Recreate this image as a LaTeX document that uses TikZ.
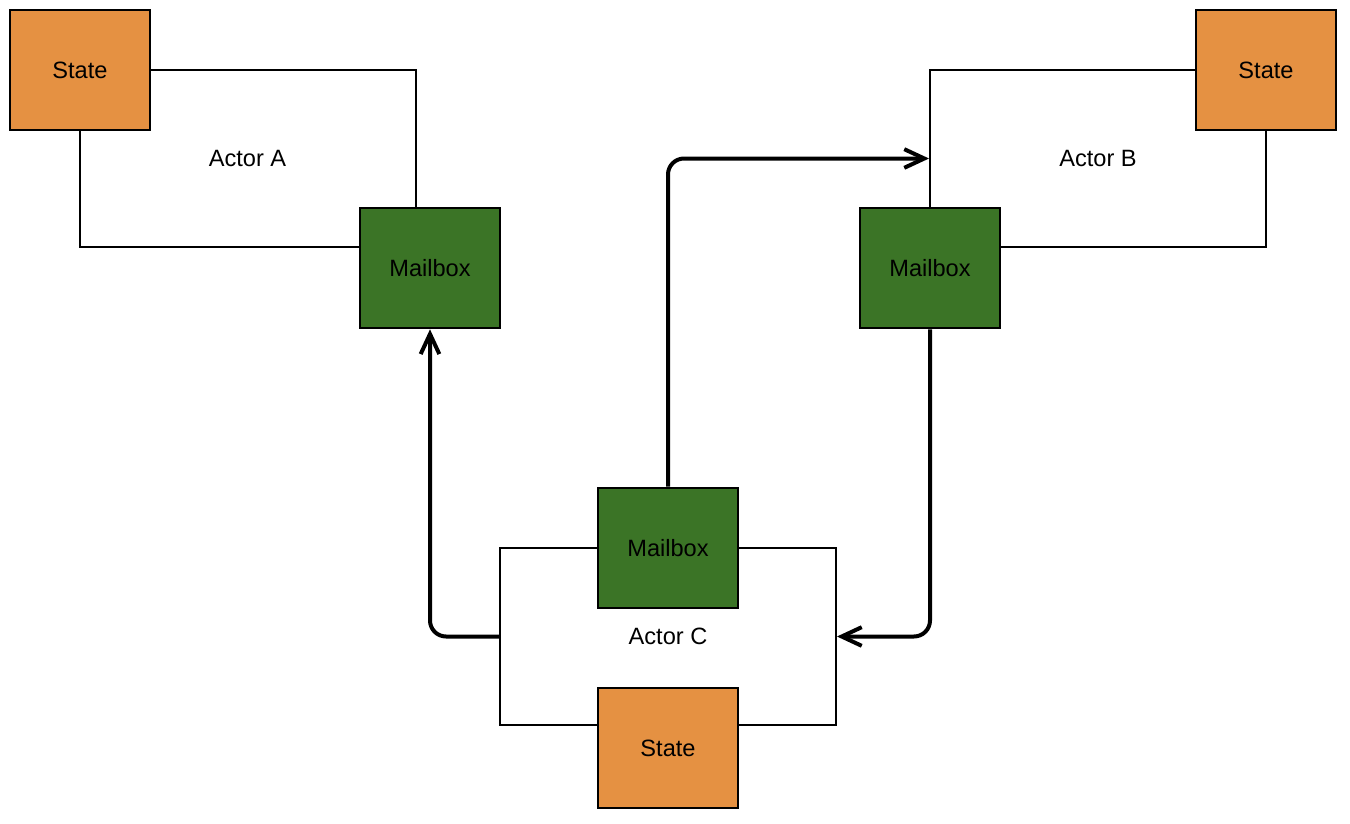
\documentclass[tikz,border=0pt]{standalone}
\usepackage{fontspec}
\setmainfont{Liberation Sans}
\usetikzlibrary{arrows.meta}
\definecolor{stateorange}{RGB}{229,145,66}
\definecolor{mailgreen}{RGB}{59,116,38}
\begin{document}
\begin{tikzpicture}[x=0.75pt,y=-0.75pt,
  font=\fontsize{17.7pt}{20pt}\selectfont,
  actorbox/.style={draw, line width=1.5pt, minimum width=252pt, minimum height=133pt, inner sep=0pt},
  statebox/.style={draw, line width=2pt, fill=stateorange, minimum width=105pt, minimum height=90pt, inner sep=0pt},
  mailbox/.style={draw, line width=2pt, fill=mailgreen, minimum width=105pt, minimum height=90pt, inner sep=0pt},
  msg/.style={line width=3pt, rounded corners=12pt, -{Straight Barb[length=15pt,width=14pt,line width=3pt]}}]
\useasboundingbox (0,0) rectangle (1350,824);

% actor frames (drawn first, so the boxes sit on top)
\node[actorbox] (actA) at (247.5,158.5) {Actor A};
\node[actorbox] (actB) at (1098,158.5) {Actor B};
\node[actorbox] (actC) at (668,636.5) {Actor C};

% state and mailbox boxes
\node[statebox] (stA) at (80,70) {State};
\node[mailbox] (mbA) at (430,268) {Mailbox};
\node[statebox] (stB) at (1266,70) {State};
\node[mailbox] (mbB) at (930,268) {Mailbox};
\node[mailbox] (mbC) at (668,548) {Mailbox};
\node[statebox] (stC) at (668,748) {State};

% messages between actors
\draw[msg] (actC.west) -| (mbA.south);
\draw[msg] (mbC.north) |- (actB.west);
\draw[msg] (mbB.south) |- (actC.east);
\end{tikzpicture}
\end{document}
